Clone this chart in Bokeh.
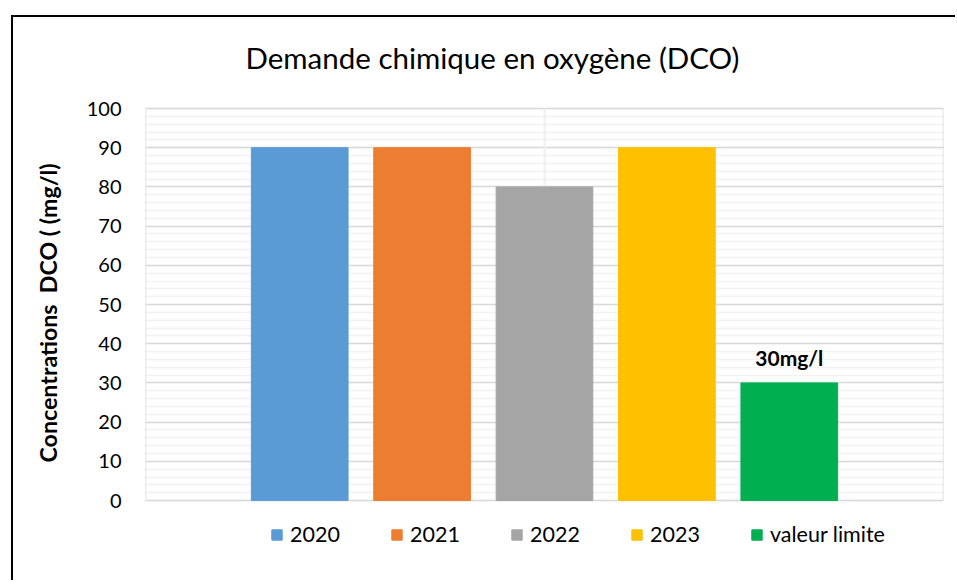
from bokeh.plotting import figure
from bokeh.models import (SingleIntervalTicker, Legend, LegendItem, Title, Label,
                          ColumnDataSource, Range1d)
from bokeh.core.properties import value
from bokeh.embed import file_html
from bokeh.resources import INLINE

# ---- data ----
series = ["2020", "2021", "2022", "2023", "valeur limite"]
values = [90, 90, 80, 90, 30]
colors = ["#5B9BD5", "#ED7D31", "#A5A5A5", "#FFC000", "#00B050"]
limit_label = "30mg/l"
title_text = "Demande chimique en oxygène (DCO)"
y_label = "Concentrations\u00a0 DCO ( (mg/l)"
y_min, y_max = 0, 100

FONT = "Lato"
xs = list(range(len(series)))
src = ColumnDataSource(dict(x=xs, top=values, color=colors, name=series))

# the frame is extended above and below the plot area to hold title and legend
W, H = 944, 565
xr = Range1d(-1.26, len(series) - 1 + 1.26)
yr = Range1d(-13, 122.45)
p = figure(width=W, height=H, output_backend="svg", toolbar_location=None,
           x_range=xr, y_range=yr, title_location=None,
           min_border_left=132, min_border_right=14,
           min_border_top=3, min_border_bottom=31)
p.margin = (15, 0, 0, 11)
p.styles = {"border-top": "2px solid #000000", "border-left": "2px solid #000000"}

p.outline_line_color = None

# horizontal grids, limited to the plot area
p.yaxis.ticker = SingleIntervalTicker(interval=10, num_minor_ticks=5)
p.ygrid.bounds = (y_min, y_max)
p.ygrid.grid_line_color = "#D9D9D9"
p.ygrid.grid_line_width = 1.5
p.ygrid.minor_grid_line_color = "#F2F2F2"
p.ygrid.minor_grid_line_width = 1.5
p.xgrid.visible = False

# plot-area side edges and the central vertical grid line
p.segment(x0=[xr.start, xr.end], y0=[y_min, y_min], x1=[xr.start, xr.end],
          y1=[y_max, y_max], line_color="#D9D9D9", line_width=1.5)
mid = xs[len(xs) // 2]
p.segment(x0=[mid], y0=[y_min], x1=[mid], y1=[y_max], line_color="#EFEFEF",
          line_width=2)

p.xaxis.visible = False
ax = p.yaxis[0]
ax.bounds = (y_min, y_max)
ax.axis_line_color = None
ax.major_tick_line_color = None
ax.minor_tick_line_color = None
ax.major_label_text_font = FONT
ax.major_label_text_font_size = "20px"
ax.major_label_text_color = "#000000"
ax.major_label_standoff = 18

# y axis title as a side title (offset measured up from the frame bottom)
p.add_layout(Title(text=y_label, align="left", offset=89, vertical_align="top",
                   standoff=40, text_font=FONT, text_font_style="bold",
                   text_font_size="23.2px", text_color="#000000"), "left")

# main title (screen units relative to the frame, y up from frame bottom)
p.add_layout(Label(x=347, y=494, x_units="screen", y_units="screen",
                   text=title_text, text_align="center", text_baseline="middle",
                   text_font=FONT, text_font_size="29.5px", text_color="#000000"))

r = p.vbar(x="x", top="top", width=0.79, color="color", source=src)

# label above limit bar
lim_src = ColumnDataSource(dict(x=[xs[-1]], y=[values[-1]], t=[limit_label]))
p.text(x="x", y="y", text="t", source=lim_src, text_align="center",
       text_baseline="bottom", y_offset=-13, text_font=value(FONT),
       text_font_style="bold", text_font_size="21px", text_color="#000000")

# legend
items = [LegendItem(label=s, renderers=[r], index=i) for i, s in enumerate(series)]
legend = Legend(items=items, orientation="horizontal", location=(125, 4),
                glyph_width=13, glyph_height=13, label_width=100, label_height=20,
                label_standoff=7, spacing=0, padding=0, margin=0,
                label_text_font=FONT, label_text_font_size="21.5px",
                label_text_color="#000000",
                border_line_alpha=0, background_fill_alpha=0)
p.add_layout(legend, "center")

open("out.html", "w").write(file_html(p, INLINE))
